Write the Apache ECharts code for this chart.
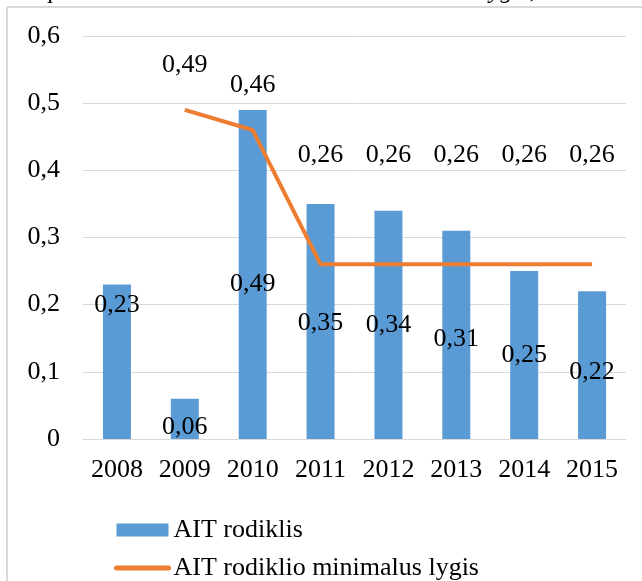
<!DOCTYPE html>
<html>
<head>
<meta charset="utf-8">
<script src="https://cdn.jsdelivr.net/npm/echarts@6/dist/echarts.min.js"></script>
<style>
  html, body { margin: 0; padding: 0; background: #fff; }
  #main { width: 642px; height: 581px; }
</style>
</head>
<body>
<div id="main"></div>
<script type="text/javascript">
var years = ['2008', '2009', '2010', '2011', '2012', '2013', '2014', '2015'];
var aitValues = [0.23, 0.06, 0.49, 0.35, 0.34, 0.31, 0.25, 0.22];
var minLevel = [null, 0.49, 0.46, 0.26, 0.26, 0.26, 0.26, 0.26];
var yTicks = [0, 0.1, 0.2, 0.3, 0.4, 0.5, 0.6];

var serif = '"Liberation Serif", "DejaVu Serif", serif';
var comma = function (v) { return String(v).replace('.', ','); };

// bar labels sit roughly in the middle of the bar, a few were nudged in Excel
var barLabelShift = [-57, 8, 10, 2, 0, 4, 0, 7];
var barData = aitValues.map(function (v, i) {
    return { value: v, label: { offset: [0, barLabelShift[i]] } };
});
// line labels: Excel moved the 0,26 ones up above the bars
var lineLabelData = minLevel.map(function (v, i) {
    if (v === null) return '-';
    return { value: v, label: { distance: i < 3 ? 31 : 96 } };
});

var myChart = echarts.init(document.getElementById('main'));
var option = {
    animation: false,
    backgroundColor: '#fff',
    textStyle: { fontFamily: serif },
    grid: { left: 83, right: 16, top: 36, bottom: 142 },
    legend: {
        orient: 'vertical',
        left: 114,
        top: 517,
        padding: 0,
        itemGap: 12,
        itemWidth: 52,
        itemHeight: 13,
        textStyle: { fontFamily: serif, fontSize: 26, color: '#000', lineHeight: 26 },
        data: [
            { name: 'AIT rodiklis', icon: 'rect' },
            {
                name: 'AIT rodiklio minimalus lygis',
                lineStyle: { width: 5, cap: 'round' },
                itemStyle: { opacity: 0 }
            }
        ]
    },
    xAxis: {
        type: 'category',
        data: years,
        axisTick: { show: false },
        axisLine: { lineStyle: { color: '#d9d9d9', width: 1 } },
        axisLabel: { color: '#000', fontSize: 26, fontFamily: serif, margin: 18 }
    },
    yAxis: {
        type: 'value',
        min: yTicks[0],
        max: yTicks[yTicks.length - 1],
        interval: 0.1,
        axisLine: { show: false },
        axisTick: { show: false },
        splitLine: { lineStyle: { color: '#d9d9d9', width: 1 } },
        axisLabel: {
            color: '#000', fontSize: 26, fontFamily: serif, margin: 23,
            formatter: function (v) { return comma(Math.round(v * 10) / 10); }
        }
    },
    graphic: [
        { type: 'line', shape: { x1: 7, y1: 7, x2: 642, y2: 7 }, style: { stroke: '#d9d9d9', lineWidth: 2 } },
        { type: 'line', shape: { x1: 7, y1: 7, x2: 7, y2: 581 }, style: { stroke: '#d9d9d9', lineWidth: 2 } },
        {
            type: 'text', left: 30, top: -21,
            style: {
                text: '2 pav. AIT rodiklis ir AIT rodiklio minimalus lygis, 2008\u20132015 m.',
                font: 'italic 25px ' + serif, fill: '#000'
            }
        }
    ],
    series: [
        {
            name: 'AIT rodiklis',
            type: 'bar',
            barWidth: 28,
            itemStyle: { color: '#5b9bd5' },
            label: {
                show: true, position: 'inside', color: '#000',
                fontSize: 26, fontFamily: serif,
                formatter: function (p) { return comma(p.value); }
            },
            data: barData
        },
        {
            name: 'AIT rodiklio minimalus lygis',
            type: 'line',
            symbol: 'none',
            lineStyle: { color: '#ed7d31', width: 4 },
            itemStyle: { color: '#ed7d31' },
            data: minLevel
        },
        {
            // invisible copy of the line that only carries its value labels
            name: 'labels',
            type: 'scatter',
            symbolSize: 1,
            itemStyle: { color: 'rgba(0,0,0,0)', opacity: 1 },
            label: {
                show: true, position: 'top', color: '#000',
                fontSize: 26, fontFamily: serif,
                formatter: function (p) { return comma(p.value); }
            },
            data: lineLabelData
        }
    ]
};
myChart.setOption(option);
</script>
</body>
</html>
